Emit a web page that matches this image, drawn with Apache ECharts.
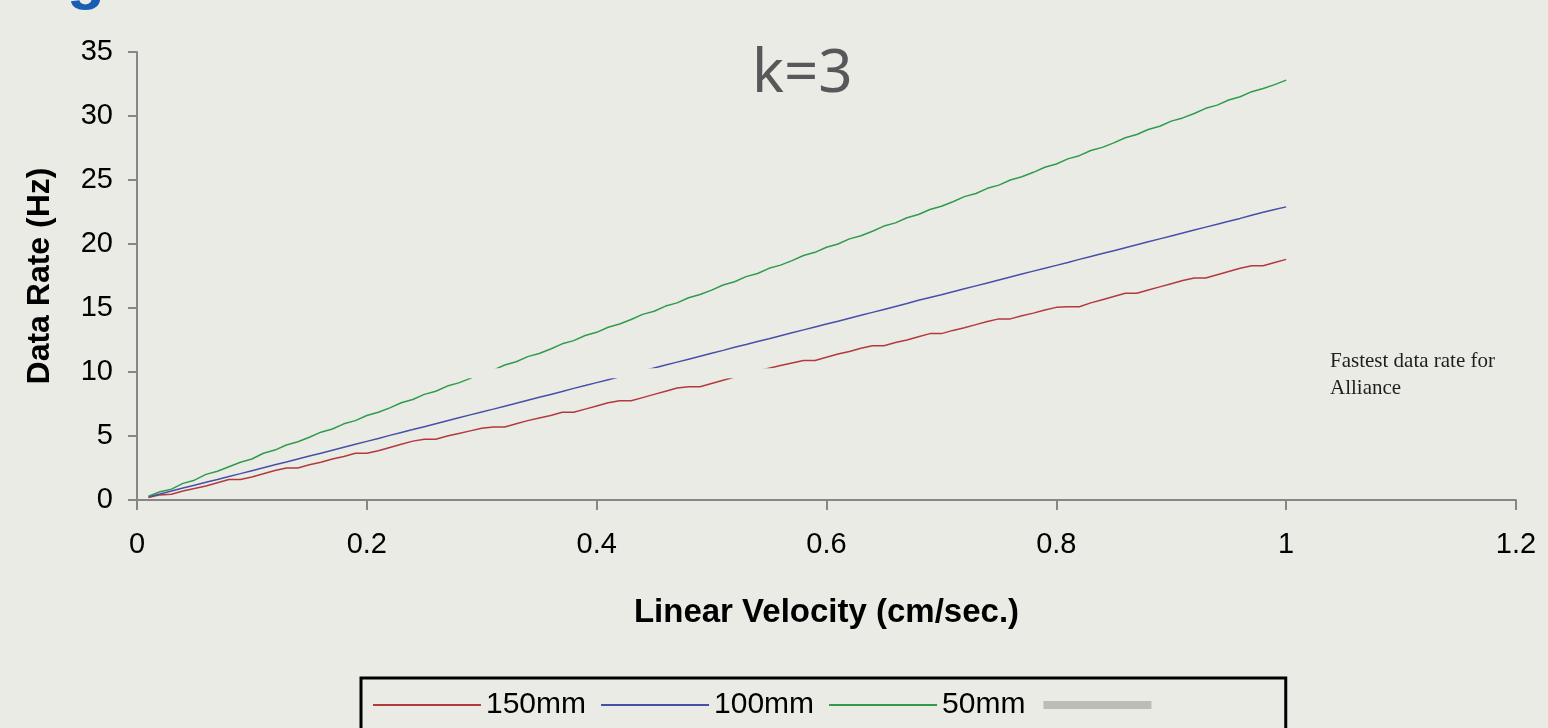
<!DOCTYPE html>
<html>
<head>
<meta charset="utf-8">
<script src="https://cdn.jsdelivr.net/npm/echarts@6/dist/echarts.min.js"></script>
<style>
html,body{margin:0;padding:0;background:#ebebe5;}
#chart{width:1548px;height:728px;}
</style>
</head>
<body>
<div id="chart"></div>
<script>
const velocity = [0.01,0.02,0.03,0.04,0.05,0.06,0.07,0.08,0.09,0.10,
0.11,0.12,0.13,0.14,0.15,0.16,0.17,0.18,0.19,0.20,
0.21,0.22,0.23,0.24,0.25,0.26,0.27,0.28,0.29,0.30,
0.31,0.32,0.33,0.34,0.35,0.36,0.37,0.38,0.39,0.40,
0.41,0.42,0.43,0.44,0.45,0.46,0.47,0.48,0.49,0.50,
0.51,0.52,0.53,0.54,0.55,0.56,0.57,0.58,0.59,0.60,
0.61,0.62,0.63,0.64,0.65,0.66,0.67,0.68,0.69,0.70,
0.71,0.72,0.73,0.74,0.75,0.76,0.77,0.78,0.79,0.80,
0.81,0.82,0.83,0.84,0.85,0.86,0.87,0.88,0.89,0.90,
0.91,0.92,0.93,0.94,0.95,0.96,0.97,0.98,0.99,1.00];

const rate150 = [0.2,0.4,0.45,0.7,0.9,1.1,1.35,1.6,1.6,1.8,
2.05,2.3,2.5,2.5,2.75,2.95,3.2,3.4,3.65,3.65,
3.85,4.1,4.35,4.6,4.75,4.75,5.0,5.2,5.4,5.6,
5.7,5.7,5.95,6.2,6.4,6.6,6.85,6.85,7.1,7.35,
7.6,7.75,7.75,8.0,8.25,8.5,8.75,8.85,8.85,9.1,
9.35,9.6,9.85,10.1,10.3,10.5,10.7,10.9,10.9,11.15,
11.4,11.6,11.85,12.05,12.05,12.3,12.5,12.75,13.0,13.0,
13.25,13.45,13.7,13.95,14.15,14.15,14.4,14.6,14.85,15.05,
15.1,15.1,15.4,15.65,15.9,16.15,16.15,16.4,16.65,16.9,
17.15,17.35,17.35,17.6,17.85,18.1,18.3,18.3,18.55,18.8];

const rate100 = [0.25,0.47,0.7,0.93,1.16,1.38,1.6,1.84,2.06,2.29,
2.52,2.75,2.97,3.2,3.43,3.66,3.89,4.12,4.35,4.58,
4.8,5.05,5.28,5.5,5.73,5.96,6.19,6.42,6.65,6.88,
7.1,7.33,7.56,7.79,8.02,8.25,8.48,8.72,8.94,9.17,
9.4,9.62,9.85,10.08,10.31,10.54,10.77,11.0,11.23,11.46,
11.69,11.93,12.15,12.38,12.6,12.83,13.06,13.29,13.52,13.75,
13.97,14.2,14.43,14.66,14.89,15.12,15.35,15.6,15.82,16.04,
16.27,16.5,16.73,16.96,17.19,17.42,17.65,17.88,18.1,18.33,
18.56,18.8,19.03,19.25,19.48,19.71,19.94,20.17,20.4,20.63,
20.86,21.09,21.32,21.55,21.77,22.0,22.25,22.48,22.7,22.9];

const rate50 = [0.3,0.65,0.85,1.3,1.55,2.0,2.25,2.6,2.95,3.2,
3.65,3.9,4.3,4.55,4.9,5.3,5.55,5.95,6.2,6.6,
6.85,7.2,7.6,7.85,8.25,8.5,8.9,9.15,9.5,9.9,
10.15,10.55,10.8,11.2,11.45,11.8,12.2,12.45,12.85,13.1,
13.5,13.75,14.1,14.5,14.75,15.15,15.4,15.8,16.05,16.4,
16.8,17.05,17.45,17.7,18.1,18.35,18.7,19.1,19.35,19.75,
20.0,20.4,20.65,21.0,21.4,21.65,22.05,22.3,22.7,22.95,
23.3,23.7,23.95,24.35,24.6,25.0,25.25,25.6,26.0,26.25,
26.65,26.9,27.3,27.55,27.9,28.3,28.55,28.95,29.2,29.6,
29.85,30.2,30.6,30.85,31.25,31.5,31.9,32.15,32.45,32.8];

const limitX = [0.01, 1.0];
const limitY = [9.9, 9.9];

const seriesNames = ['150mm', '100mm', '50mm', ' '];
const colors = ['#b23a3e', '#4650a8', '#2e9c4c'];
const bg = '#ebebe5';

function pairs(xs, ys) { return xs.map((x, i) => [x, ys[i]]); }

const chart = echarts.init(document.getElementById('chart'), null, {renderer: 'canvas'});
const font = 'Liberation Sans, Arial, sans-serif';

chart.setOption({
  backgroundColor: bg,
  animation: false,
  grid: {left: 137, right: 32, top: 52, bottom: 228},
  xAxis: {
    type: 'value', min: 0, max: 1.2, interval: 0.2,
    name: 'Linear Velocity (cm/sec.)', nameLocation: 'middle', nameGap: 96,
    nameTextStyle: {fontSize: 33, fontWeight: 'bold', color: '#000', fontFamily: font},
    axisLine: {show: true, onZero: false, lineStyle: {color: '#868686', width: 2}},
    axisTick: {show: true, length: 10, lineStyle: {color: '#868686', width: 2}},
    axisLabel: {fontSize: 29, color: '#000', margin: 30, fontFamily: font},
    splitLine: {show: false}
  },
  yAxis: {
    type: 'value', min: 0, max: 35, interval: 5,
    name: 'Data Rate (Hz)', nameLocation: 'middle', nameGap: 81, nameRotate: 90,
    nameTextStyle: {fontSize: 32, fontWeight: 'bold', color: '#000', fontFamily: font},
    axisLine: {show: true, lineStyle: {color: '#868686', width: 2}},
    axisTick: {show: true, length: 9, lineStyle: {color: '#868686', width: 2}},
    axisLabel: {fontSize: 29, color: '#000', margin: 24, fontFamily: font},
    splitLine: {show: false}
  },
  legend: {
    left: 361, top: 678,
    itemWidth: 108, itemHeight: 14, itemGap: 14,
    padding: [12, 121, 16, 11],
    borderColor: '#000', borderWidth: 3,
    itemStyle: {opacity: 0},
    textStyle: {fontSize: 30, color: '#000', fontFamily: font},
    data: [
      {name: seriesNames[0]},
      {name: seriesNames[1]},
      {name: seriesNames[2]},
      {name: seriesNames[3], lineStyle: {color: '#bdbcb6', width: 8}}
    ]
  },
  series: [
    {name: seriesNames[0], type: 'line', data: pairs(velocity, rate150), symbol: 'none', lineStyle: {color: colors[0], width: 1.5}, itemStyle: {color: colors[0]}, z: 2},
    {name: seriesNames[1], type: 'line', data: pairs(velocity, rate100), symbol: 'none', lineStyle: {color: colors[1], width: 1.5}, itemStyle: {color: colors[1]}, z: 2},
    {name: seriesNames[2], type: 'line', data: pairs(velocity, rate50), symbol: 'none', lineStyle: {color: colors[2], width: 1.5}, itemStyle: {color: colors[2]}, z: 2},
    {name: seriesNames[3], type: 'line', data: pairs(limitX, limitY), symbol: 'none', lineStyle: {color: bg, width: 10}, itemStyle: {color: bg}, z: 3, silent: true}
  ],
  graphic: [
    {type: 'text', left: 752, top: 45, z: 10,
     style: {text: 'k=3', font: '60px "Noto Sans", sans-serif', fill: '#58585a'}},
    {type: 'text', left: 1330, top: 348, z: 10,
     style: {text: 'Fastest data rate for\nAlliance', font: '21px "Liberation Serif", serif', lineHeight: 27, fill: '#1e1e1e'}},
    {type: 'text', left: 67, top: -51, z: 10,
     style: {text: 'g', font: 'bold 62px "Liberation Sans", sans-serif', fill: '#1a5db4'}}
  ]
});
</script>
</body>
</html>
